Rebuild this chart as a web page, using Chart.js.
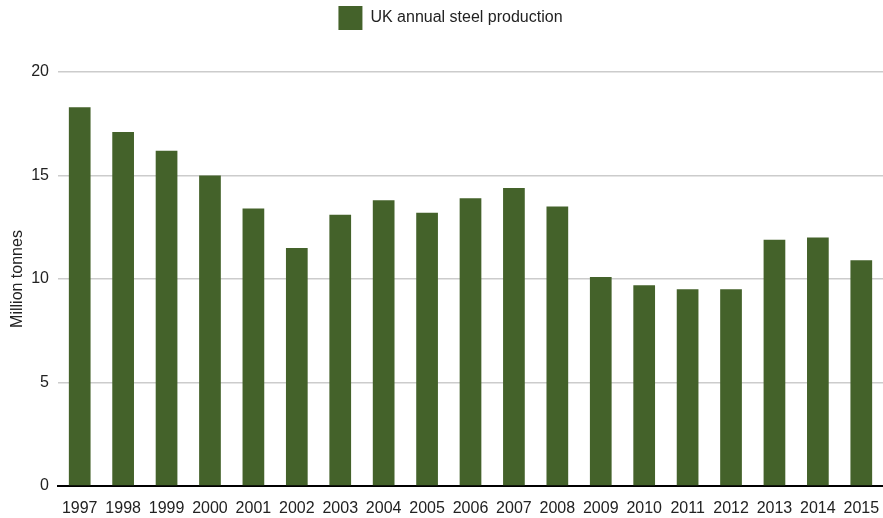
<!DOCTYPE html>
<html>
<head>
<meta charset="utf-8">
<script src="https://cdn.jsdelivr.net/npm/chart.js@4/dist/chart.umd.min.js"></script>
<style>
  html, body { margin: 0; padding: 0; background: #fff; overflow: hidden; }
  canvas { display: block; }
</style>
</head>
<body>
<canvas id="steelChart" width="883" height="518"></canvas>
<script>
const years = ['1997', '1998', '1999', '2000', '2001', '2002', '2003', '2004', '2005', '2006',
               '2007', '2008', '2009', '2010', '2011', '2012', '2013', '2014', '2015'];
const production = [18.3, 17.1, 16.2, 15.0, 13.4, 11.5, 13.1, 13.8, 13.2, 13.9,
                    14.4, 13.5, 10.1, 9.7, 9.5, 9.5, 11.9, 12.0, 10.9];
const yTicks = [0, 5, 10, 15, 20];

const green = '#44622a';
const font = 'Liberation Sans, Arial, sans-serif';

// taller legend block, nudged a little to the right
const legendSpacing = {
    id: 'legendSpacing',
    beforeInit(chart) {
        const fit = chart.legend.fit;
        chart.legend.fit = function () {
            fit.call(this);
            this.height = 72;
        };
    },
    afterLayout(chart) {
        chart.legend.left += 9;
        chart.legend.right += 9;
    }
};

document.addEventListener('DOMContentLoaded', function () {
    const ctx = document.getElementById('steelChart').getContext('2d');
    new Chart(ctx, {
        type: 'bar',
        data: {
            labels: years,
            datasets: [{
                label: 'UK annual steel production',
                data: production,
                backgroundColor: green,
                borderWidth: 0,
                barPercentage: 0.5,
                categoryPercentage: 1.0
            }]
        },
        plugins: [legendSpacing],
        options: {
            responsive: false,
            animation: false,
            layout: { padding: 0 },
            plugins: {
                tooltip: { enabled: false },
                legend: {
                    position: 'top',
                    labels: {
                        boxWidth: 24,
                        boxHeight: 24,
                        padding: 6,
                        color: '#222',
                        font: { family: font, size: 16 }
                    }
                }
            },
            scales: {
                x: {
                    afterFit: axis => {
                        axis.height = 32;
                        axis.paddingLeft = 0;
                        axis.paddingRight = 0;
                    },
                    grid: { display: false, drawTicks: false },
                    border: { display: true, color: '#000', width: 2 },
                    ticks: {
                        color: '#222',
                        padding: 13,
                        maxRotation: 0,
                        autoSkip: false,
                        font: { family: font, size: 16 }
                    }
                },
                y: {
                    min: 0,
                    max: 20,
                    afterBuildTicks: axis => { axis.ticks = yTicks.map(v => ({ value: v })); },
                    afterFit: axis => {
                        axis.width = 58;
                        axis.paddingTop = 0;
                        axis.paddingBottom = 0;
                    },
                    grid: { color: '#cccccc', lineWidth: 1.5, drawTicks: false },
                    border: { display: false },
                    ticks: {
                        color: '#222',
                        padding: 9,
                        font: { family: font, size: 16 }
                    },
                    title: {
                        display: true,
                        text: 'Million tonnes',
                        color: '#222',
                        padding: { top: 8, bottom: 0 },
                        font: { family: font, size: 16 }
                    }
                }
            }
        }
    });
});
</script>
</body>
</html>
